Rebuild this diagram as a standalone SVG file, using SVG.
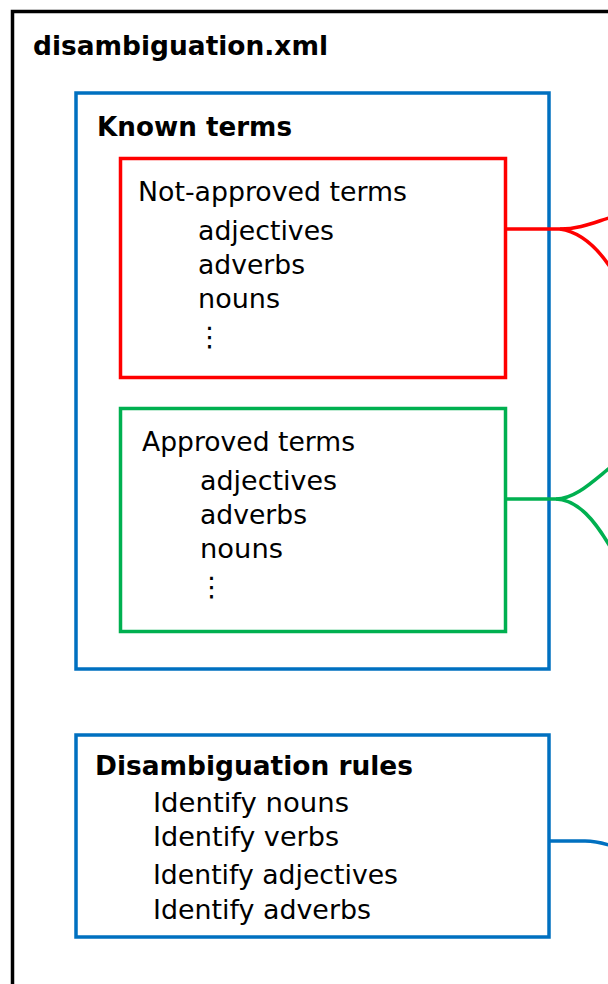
<svg xmlns="http://www.w3.org/2000/svg" width="608" height="984" viewBox="0 0 608 984">
<style>
text{font-family:"DejaVu Sans","Liberation Sans",sans-serif;fill:#000;font-size:27px}
.b{font-weight:bold}
.box{fill:none;stroke-width:3.5}
.conn{fill:none;stroke-width:3.5}
</style>
<rect width="608" height="984" fill="#fff"/>
<g id="file">
<rect x="12.5" y="11.5" width="640" height="1000" fill="none" stroke="#000" stroke-width="3.5"/>
<text class="b" x="33" y="55" font-size="28" textLength="295" lengthAdjust="spacingAndGlyphs">disambiguation.xml</text>
</g>
<g id="known-terms">
<rect class="box" x="76" y="93" width="473" height="576" stroke="#0070C0"/>
<text class="b" x="97" y="136" textLength="195" lengthAdjust="spacingAndGlyphs">Known terms</text>
</g>
<g id="not-approved">
<rect class="box" x="120.5" y="158.5" width="385" height="219" stroke="#FF0000"/>
<text x="138" y="201" textLength="269" lengthAdjust="spacingAndGlyphs">Not-approved terms</text>
<text x="198" y="240" textLength="136" lengthAdjust="spacingAndGlyphs">adjectives</text>
<text x="198" y="274" textLength="107" lengthAdjust="spacingAndGlyphs">adverbs</text>
<text x="198" y="308" textLength="82" lengthAdjust="spacingAndGlyphs">nouns</text>
<text x="196" y="346">⋮</text>
</g>
<g id="approved">
<rect class="box" x="120.5" y="408.5" width="385" height="223" stroke="#00B050"/>
<text x="142" y="451" textLength="213" lengthAdjust="spacingAndGlyphs">Approved terms</text>
<text x="200" y="490" textLength="137" lengthAdjust="spacingAndGlyphs">adjectives</text>
<text x="200" y="524" textLength="107" lengthAdjust="spacingAndGlyphs">adverbs</text>
<text x="200" y="558" textLength="83" lengthAdjust="spacingAndGlyphs">nouns</text>
<text x="198" y="596">⋮</text>
</g>
<g id="rules">
<rect class="box" x="76" y="735" width="473" height="202" stroke="#0070C0"/>
<text class="b" x="95" y="775" textLength="318" lengthAdjust="spacingAndGlyphs">Disambiguation rules</text>
<text x="153" y="812" textLength="196" lengthAdjust="spacingAndGlyphs">Identify nouns</text>
<text x="153" y="846" textLength="186" lengthAdjust="spacingAndGlyphs">Identify verbs</text>
<text x="153" y="884" textLength="245" lengthAdjust="spacingAndGlyphs">Identify adjectives</text>
<text x="153" y="919" textLength="218" lengthAdjust="spacingAndGlyphs">Identify adverbs</text>
</g>
<g id="connectors">
<path class="conn" stroke="#FF0000" d="M505 229 H560 C580 229 595 222 612 217"/>
<path class="conn" stroke="#FF0000" d="M560 229 C580 232 598 248 612 270"/>
<path class="conn" stroke="#00B050" d="M505 499 H556 C575 499 592 482 612 466"/>
<path class="conn" stroke="#00B050" d="M556 499 C578 500 595 520 612 550"/>
<path class="conn" stroke="#0070C0" d="M549 841 H585 C595 841 603 843 612 846"/>
</g>
</svg>
